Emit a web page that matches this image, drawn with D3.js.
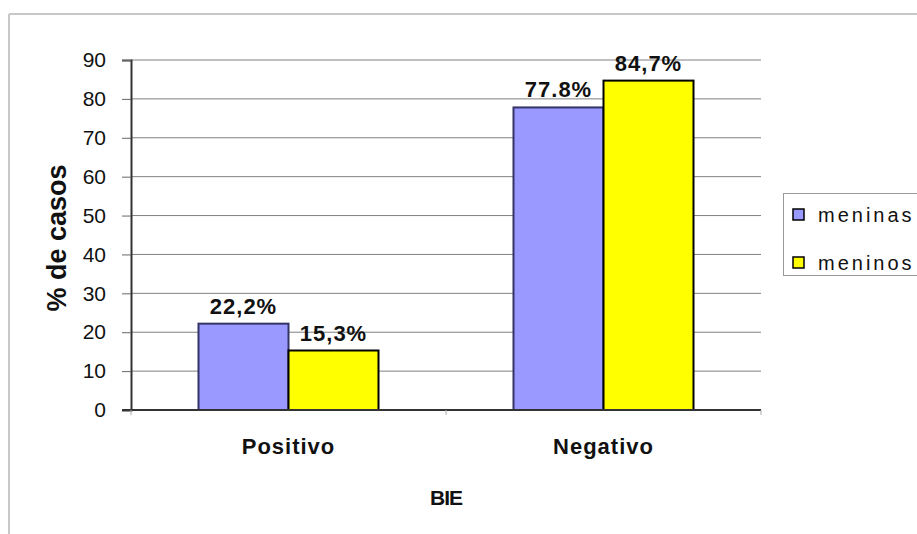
<!DOCTYPE html>
<html>
<head>
<meta charset="utf-8">
<script src="https://cdn.jsdelivr.net/npm/d3@7"></script>
<style>
  html, body { margin: 0; padding: 0; background: #fff; }
  svg { display: block; font-family: "Liberation Sans", Arial, sans-serif; }
</style>
</head>
<body>
<svg id="chart" width="917" height="534"></svg>
<script>
// BIE results by sex, % of cases
const categories = ["Positivo", "Negativo"];
const seriesNames = ["meninas", "meninos"];
const meninas = [22.2, 77.8];
const meninos = [15.3, 84.7];
const valueLabels = [["22,2%", "77.8%"], ["15,3%", "84,7%"]];
const yTicks = [0, 10, 20, 30, 40, 50, 60, 70, 80, 90];
const colors = ["#9999ff", "#ffff00"];
const strokes = ["#333366", "#000000"];

const svg = d3.select("#chart");
const plot = { left: 131, right: 761, top: 60, bottom: 410 };

// outer frame edges
svg.append("line").attr("x1", 9).attr("x2", 917).attr("y1", 14).attr("y2", 14)
  .attr("stroke", "#c8c8c8").attr("stroke-width", 2);
svg.append("line").attr("x1", 9).attr("x2", 9).attr("y1", 14).attr("y2", 534)
  .attr("stroke", "#c8c8c8").attr("stroke-width", 2);

const x0 = d3.scaleBand().domain(categories).range([plot.left, plot.right]);
const groupWidth = 180;
const x1 = d3.scaleBand().domain(seriesNames).range([0, groupWidth]);
const y = d3.scaleLinear().domain([0, 90]).range([plot.bottom, plot.top]);
const barX = (c, si) => x0(c) + (x0.bandwidth() - groupWidth) / 2 + x1(seriesNames[si]);

// gridlines
svg.append("g").selectAll("line").data(yTicks.filter(t => t > 0)).join("line")
  .attr("x1", plot.left).attr("x2", plot.right)
  .attr("y1", d => y(d)).attr("y2", d => y(d))
  .attr("stroke", "#808080").attr("stroke-width", 1);

// y axis
const yAxis = svg.append("g").attr("transform", `translate(${plot.left},0)`)
  .call(d3.axisLeft(y).tickValues(yTicks).tickSize(9).tickPadding(16));
yAxis.select(".domain").attr("stroke", "#333").attr("stroke-width", 2);
yAxis.selectAll(".tick line").attr("stroke", "#666");
yAxis.selectAll(".tick text").attr("font-size", 21).attr("fill", "#111")
  .attr("font-family", "Liberation Sans, Arial, sans-serif");

// bars
const series = [meninas, meninos];
series.forEach((vals, si) => {
  svg.append("g").selectAll("rect").data(categories).join("rect")
    .attr("x", c => barX(c, si))
    .attr("y", (c, i) => y(vals[i]))
    .attr("width", x1.bandwidth())
    .attr("height", (c, i) => y(0) - y(vals[i]))
    .attr("fill", colors[si])
    .attr("stroke", strokes[si]).attr("stroke-width", 2);
});

// x axis baseline
svg.append("line").attr("x1", plot.left - 9).attr("x2", plot.right)
  .attr("y1", plot.bottom).attr("y2", plot.bottom)
  .attr("stroke", "#333").attr("stroke-width", 2);
svg.append("g").selectAll("line").data([plot.left, x0("Negativo"), plot.right]).join("line")
  .attr("x1", d => d).attr("x2", d => d).attr("y1", plot.bottom).attr("y2", plot.bottom + 5)
  .attr("stroke", "#aaa");

// value labels
series.forEach((vals, si) => {
  svg.append("g").selectAll("text").data(categories).join("text")
    .attr("x", c => barX(c, si) + x1.bandwidth() / 2)
    .attr("y", (c, i) => y(vals[i]) - 10)
    .attr("text-anchor", "middle")
    .attr("font-size", 22).attr("font-weight", "bold").attr("letter-spacing", 1).attr("fill", "#111")
    .text((c, i) => valueLabels[si][i]);
});

// category labels
svg.append("g").selectAll("text").data(categories).join("text")
  .attr("x", c => x0(c) + x0.bandwidth() / 2)
  .attr("y", 454)
  .attr("text-anchor", "middle")
  .attr("font-size", 22).attr("font-weight", "bold").attr("letter-spacing", 1).attr("fill", "#111")
  .text(c => c);

// axis titles
svg.append("text").attr("x", 446).attr("y", 505).attr("text-anchor", "middle")
  .attr("font-size", 21).attr("font-weight", "bold").attr("letter-spacing", -1).attr("fill", "#111").text("BIE");
svg.append("text").attr("transform", "translate(66,238) rotate(-90)").attr("text-anchor", "middle")
  .attr("font-size", 27).attr("font-weight", "bold").attr("fill", "#111").text("% de casos");

// legend
const legend = svg.append("g");
legend.append("rect").attr("x", 783.5).attr("y", 193.5).attr("width", 140).attr("height", 82)
  .attr("fill", "#fff").attr("stroke", "#999");
seriesNames.forEach((name, i) => {
  const ly = 209 + i * 48;
  legend.append("rect").attr("x", 793).attr("y", ly).attr("width", 11).attr("height", 11)
    .attr("fill", colors[i]).attr("stroke", "#000").attr("stroke-width", 1.5);
  legend.append("text").attr("x", 818).attr("y", ly + 13)
    .attr("font-size", 20).attr("letter-spacing", 3).attr("fill", "#111").text(name);
});
</script>
</body>
</html>
